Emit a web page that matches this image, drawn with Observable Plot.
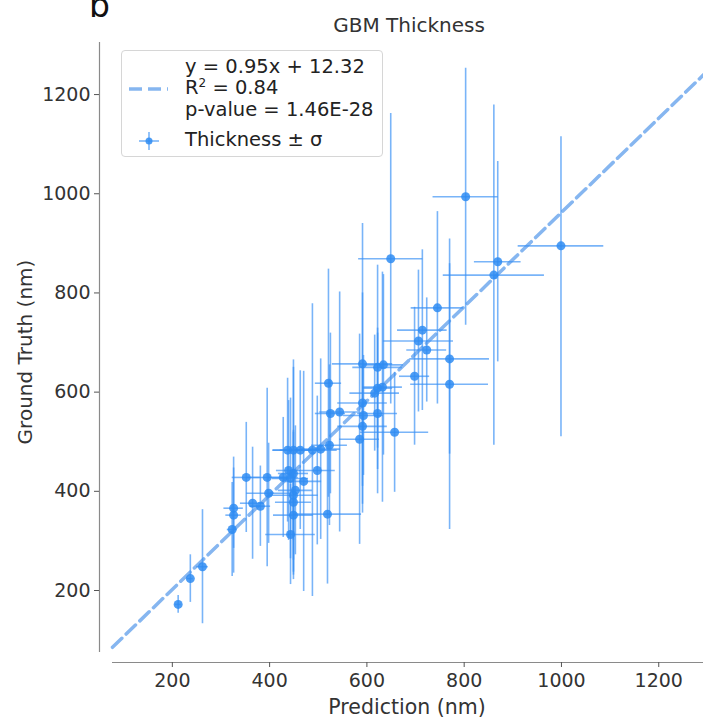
<!DOCTYPE html>
<html>
<head>
<meta charset="utf-8">
<script src="https://cdn.jsdelivr.net/npm/d3@7"></script>
<script src="https://cdn.jsdelivr.net/npm/@observablehq/plot@0.6"></script>
<style>
  html, body { margin: 0; padding: 0; background: #fff; }
  #wrap { position: relative; width: 703px; height: 723px; overflow: hidden; font-family: "DejaVu Sans", sans-serif; color: #333; }
  #wrap svg { position: absolute; left: 0; top: 0; }
  .abs { position: absolute; white-space: nowrap; }
  #legend { position: absolute; left: 121px; top: 50px; width: 262px; height: 107px; border: 1px solid #d6d6d6; border-radius: 4px; background: rgba(255,255,255,0.85); box-sizing: border-box; }
</style>
</head>
<body>
<div id="wrap"></div>
<script>
// ---- data ----
const prediction      = [212, 237, 262, 323, 326, 326, 352, 365, 381, 395, 398, 428, 437, 443, 439, 443, 449, 449, 449, 449, 449, 470, 488, 505, 523, 519, 521, 525, 544, 585, 591, 593, 591, 591, 622, 634, 622, 622, 632, 616, 649, 657, 698, 706, 714, 723, 745, 770, 770, 803, 861, 869, 999, 463, 498, 453];
const predictionSigma = [6, 6, 12, 10, 16, 20, 29, 25, 21, 41, 45, 31, 31, 37, 25, 51, 41, 31, 41, 37, 51, 37, 51, 41, 37, 70, 27, 31, 41, 41, 51, 41, 51, 62, 51, 41, 41, 31, 41, 51, 66, 70, 31, 72, 51, 41, 54, 82, 80, 67, 104, 48, 88, 41, 37, 35];
const groundTruth     = [172, 224, 248, 323, 352, 366, 428, 376, 370, 428, 396, 428, 483, 426, 442, 313, 352, 436, 483, 378, 392, 420, 483, 485, 493, 354, 618, 557, 560, 505, 578, 553, 531, 657, 650, 655, 557, 608, 610, 598, 869, 519, 632, 703, 725, 685, 770, 667, 616, 994, 836, 863, 895, 483, 442, 402];
// upper and lower extent of the vertical (ground-truth) error bars
const groundTruthSigmaUp   = [18, 48, 115, 95, 117, 81, 111, 113, 81, 180, 101, 121, 145, 162, 141, 101, 121, 214, 182, 141, 131, 222, 295, 182, 162, 141, 230, 162, 242, 212, 222, 121, 121, 283, 206, 182, 162, 121, 232, 117, 293, 121, 139, 143, 162, 105, 194, 192, 293, 259, 343, 202, 220, 160, 150, 130];
const groundTruthSigmaDown = [18, 48, 115, 95, 117, 81, 111, 113, 81, 180, 101, 121, 145, 162, 141, 101, 121, 214, 182, 141, 131, 222, 295, 182, 162, 141, 230, 162, 242, 212, 222, 121, 121, 283, 206, 182, 162, 121, 232, 117, 293, 121, 139, 143, 162, 105, 194, 192, 293, 259, 343, 202, 385, 160, 150, 130];

const xTicks = [200, 400, 600, 800, 1000, 1200];
const yTicks = [200, 400, 600, 800, 1000, 1200];
const xDomain = [77, 1292];
const yDomain = [75, 1305];

const fitSlope = 0.95;
const fitIntercept = 12.32;
const legendFitLines = ["y = 0.95x + 12.32", "R\u00B2 = 0.84", "p-value = 1.46E-28"];
const legendDataLabel = "Thickness \u00B1 \u03C3";
const titleText = "GBM Thickness";
const panelLetter = "b";
const xLabel = "Prediction (nm)";
const yLabel = "Ground Truth (nm)";

// ---- build ----
const data = prediction.map((x, i) => ({ x, y: groundTruth[i], xe: predictionSigma[i], yUp: groundTruthSigmaUp[i], yDown: groundTruthSigmaDown[i] }));
const fitLine = xDomain.map(x => ({ x, y: fitSlope * x + fitIntercept }));

const barColor = "#3a91f5";
const dotColor = "#2f8cf2";
const fitColor = "#86b6f0";
const spineColor = "#8a8a8a";

const chart = Plot.plot({
  width: 703,
  height: 723,
  marginLeft: 112,
  marginRight: 0,
  marginTop: 42,
  marginBottom: 71,
  style: { fontFamily: "DejaVu Sans, sans-serif", fontSize: "19px", color: "#333", background: "transparent", overflow: "visible" },
  x: { domain: xDomain },
  y: { domain: yDomain },
  marks: [
    Plot.ruleX([xDomain[0]], { dx: -13, stroke: spineColor, strokeWidth: 1.2 }),
    Plot.ruleY([yDomain[0]], { dy: 10, stroke: spineColor, strokeWidth: 1.2 }),
    Plot.axisX({ ticks: xTicks, tickFormat: d => String(d), dy: 10, tickSize: 5, tickPadding: 6, label: null, stroke: "#555", fill: "#333" }),
    Plot.axisY({ ticks: yTicks, tickFormat: d => String(d), dx: -13, tickSize: 5, tickPadding: 4, label: null, stroke: "#555", fill: "#333" }),
    Plot.line(fitLine, { x: "x", y: "y", stroke: fitColor, strokeWidth: 3.5, strokeDasharray: "13,6" }),
    Plot.ruleX(data, { x: "x", y1: d => d.y - d.yDown, y2: d => d.y + d.yUp, stroke: barColor, strokeOpacity: 0.68, strokeWidth: 1.6 }),
    Plot.ruleY(data, { y: "y", x1: d => d.x - d.xe, x2: d => d.x + d.xe, stroke: barColor, strokeOpacity: 0.68, strokeWidth: 1.6 }),
    Plot.dot(data, { x: "x", y: "y", r: 4.5, fill: dotColor, fillOpacity: 0.85, stroke: "none" })
  ]
});

const wrap = document.getElementById("wrap");
wrap.appendChild(chart);

function addText(txt, css) {
  const el = document.createElement("div");
  el.className = "abs";
  el.textContent = txt;
  Object.assign(el.style, css);
  wrap.appendChild(el);
  return el;
}

// panel letter and title
addText(panelLetter, { left: "89px", top: "-14px", fontSize: "33px", lineHeight: "40px", color: "#111" });
addText(titleText, { left: "409px", top: "13px", fontSize: "20px", lineHeight: "24px", transform: "translateX(-50%)", color: "#333" });
// axis labels
addText(xLabel, { left: "407px", top: "695px", fontSize: "20.5px", lineHeight: "24px", transform: "translateX(-50%)", color: "#333" });
addText(yLabel, { left: "25px", top: "352px", fontSize: "20px", lineHeight: "24px", transform: "translate(-50%,-50%) rotate(-90deg)", color: "#333" });

// legend
const legend = document.createElement("div");
legend.id = "legend";
wrap.appendChild(legend);
const centers = [67, 88, 110];
legendFitLines.forEach((t, i) => {
  const el = addText("", { left: "185px", top: (centers[i] - 12) + "px", fontSize: "19.5px", lineHeight: "24px", color: "#222" });
  if (t.includes("\u00B2")) {
    const parts = t.split("\u00B2");
    el.appendChild(document.createTextNode(parts[0]));
    const sup = document.createElement("span");
    sup.textContent = "2";
    Object.assign(sup.style, { fontSize: "12px", position: "relative", top: "-7px" });
    el.appendChild(sup);
    el.appendChild(document.createTextNode(parts[1]));
  } else {
    el.textContent = t;
  }
});
addText(legendDataLabel, { left: "185px", top: (140 - 12) + "px", fontSize: "19.5px", lineHeight: "24px", color: "#222" });

const ns = "http://www.w3.org/2000/svg";
const sym = document.createElementNS(ns, "svg");
sym.setAttribute("width", 703); sym.setAttribute("height", 200);
sym.style.position = "absolute"; sym.style.left = "0"; sym.style.top = "0";
sym.innerHTML =
  `<line x1="129" x2="168" y1="89" y2="89" stroke="${fitColor}" stroke-width="3.5" stroke-dasharray="13,6"/>` +
  `<line x1="139" x2="159" y1="141" y2="141" stroke="${barColor}" stroke-opacity="0.68" stroke-width="1.6"/>` +
  `<line x1="149" x2="149" y1="132" y2="150" stroke="${barColor}" stroke-opacity="0.68" stroke-width="1.6"/>` +
  `<circle cx="149" cy="141" r="3.5" fill="${dotColor}" fill-opacity="0.85"/>`;
wrap.appendChild(sym);
</script>
</body>
</html>
